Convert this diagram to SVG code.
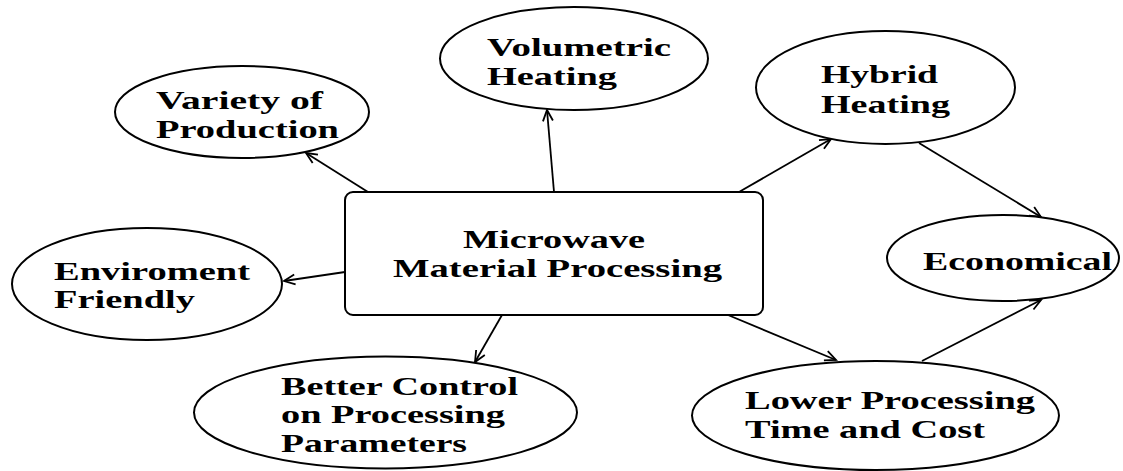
<svg xmlns="http://www.w3.org/2000/svg" width="1123" height="471" viewBox="0 0 1123 471">
<style>
.n{fill:#fff;stroke:#000;stroke-width:2}
.t{font-family:"Liberation Serif","Times New Roman",serif;font-weight:bold;font-size:26px;fill:#000}
.c{stroke:#000;stroke-width:1.8;fill:none}
</style>
<defs>
<marker id="ah" markerUnits="userSpaceOnUse" markerWidth="14" markerHeight="14" refX="12" refY="6" orient="auto" viewBox="0 0 14 12">
<path d="M1,1 L12,6 L1,11" fill="none" stroke="#000" stroke-width="1.8"/>
</marker>
</defs>
<rect width="1123" height="471" fill="#fff"/>
<g id="connectors">
<line class="c" x1="368" y1="192" x2="306" y2="153" marker-end="url(#ah)"/>
<line class="c" x1="554" y1="192" x2="547" y2="110" marker-end="url(#ah)"/>
<line class="c" x1="739" y1="192" x2="831" y2="139" marker-end="url(#ah)"/>
<line class="c" x1="919" y1="143" x2="1041" y2="217" marker-end="url(#ah)"/>
<line class="c" x1="345" y1="272" x2="284" y2="281" marker-end="url(#ah)"/>
<line class="c" x1="502" y1="315" x2="475" y2="362" marker-end="url(#ah)"/>
<line class="c" x1="728" y1="315" x2="836" y2="360" marker-end="url(#ah)"/>
<line class="c" x1="922" y1="361" x2="1041" y2="300" marker-end="url(#ah)"/>
</g>
<g id="variety">
<ellipse class="n" cx="242" cy="112" rx="127" ry="46"/>
<text class="t" x="156" y="109" textLength="167" lengthAdjust="spacingAndGlyphs">Variety of</text>
<text class="t" x="156" y="138" textLength="183" lengthAdjust="spacingAndGlyphs">Production</text>
</g>
<g id="volumetric">
<ellipse class="n" cx="574" cy="58.5" rx="134" ry="51.5"/>
<text class="t" x="487" y="56" textLength="184" lengthAdjust="spacingAndGlyphs">Volumetric</text>
<text class="t" x="487" y="85" textLength="130" lengthAdjust="spacingAndGlyphs">Heating</text>
</g>
<g id="hybrid">
<ellipse class="n" cx="885.5" cy="87.5" rx="129.5" ry="56.5"/>
<text class="t" x="821" y="83" textLength="117" lengthAdjust="spacingAndGlyphs">Hybrid</text>
<text class="t" x="821" y="113" textLength="129" lengthAdjust="spacingAndGlyphs">Heating</text>
</g>
<g id="economical">
<ellipse class="n" cx="1003" cy="258" rx="116" ry="43"/>
<text class="t" x="923" y="270" textLength="189" lengthAdjust="spacingAndGlyphs">Economical</text>
</g>
<g id="microwave">
<rect class="n" x="345" y="192" width="418" height="123" rx="8"/>
<text class="t" x="463" y="248" textLength="182" lengthAdjust="spacingAndGlyphs">Microwave</text>
<text class="t" x="393" y="277" textLength="329" lengthAdjust="spacingAndGlyphs">Material Processing</text>
</g>
<g id="enviroment">
<ellipse class="n" cx="147" cy="284" rx="135" ry="56"/>
<text class="t" x="54" y="280" textLength="196" lengthAdjust="spacingAndGlyphs">Enviroment</text>
<text class="t" x="54" y="308" textLength="141" lengthAdjust="spacingAndGlyphs">Friendly</text>
</g>
<g id="better-control">
<ellipse class="n" cx="385.5" cy="412.5" rx="191.5" ry="56"/>
<text class="t" x="281" y="395" textLength="237" lengthAdjust="spacingAndGlyphs">Better Control</text>
<text class="t" x="281" y="423" textLength="224" lengthAdjust="spacingAndGlyphs">on Processing</text>
<text class="t" x="281" y="452" textLength="186" lengthAdjust="spacingAndGlyphs">Parameters</text>
</g>
<g id="lower-processing">
<ellipse class="n" cx="875.5" cy="415.5" rx="183.5" ry="54.5"/>
<text class="t" x="745" y="409" textLength="290" lengthAdjust="spacingAndGlyphs">Lower Processing</text>
<text class="t" x="745" y="438" textLength="240" lengthAdjust="spacingAndGlyphs">Time and Cost</text>
</g>
</svg>
